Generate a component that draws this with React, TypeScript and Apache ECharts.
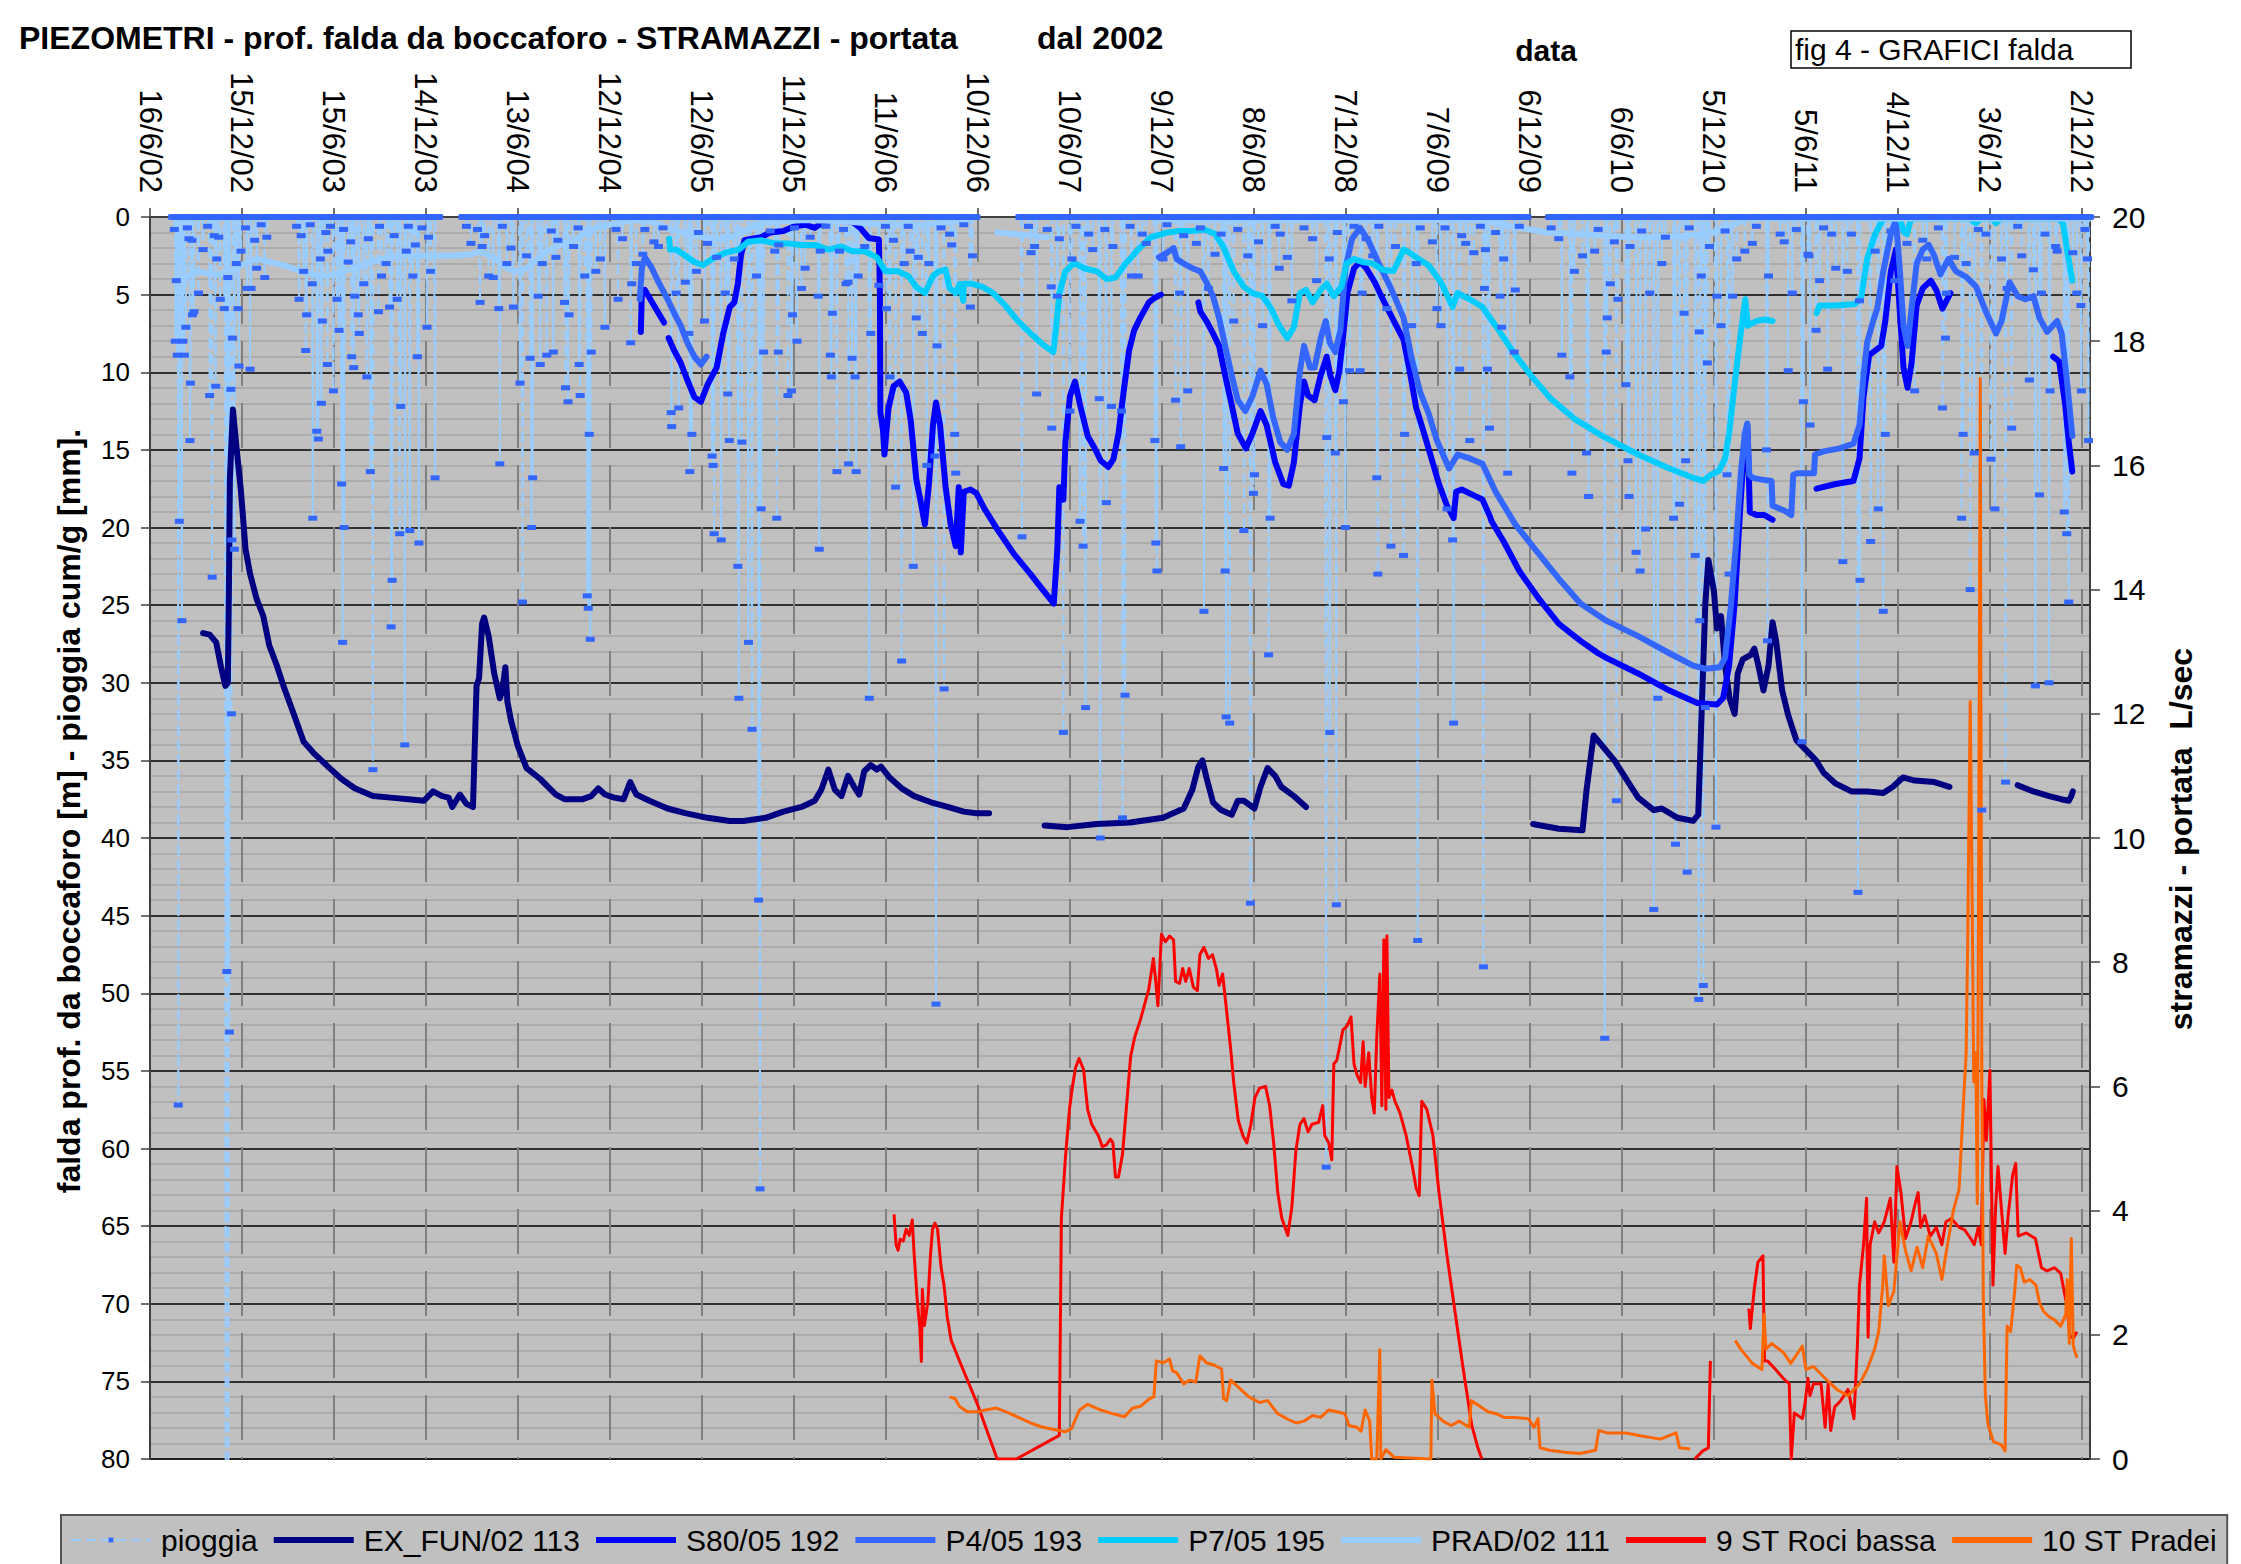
import React, { useEffect, useRef } from 'react';
import * as echarts from 'echarts';

// ---- time axis: x values are days counted from 16/6/2002 (first date tick) ----
const TICK_STEP_DAYS = 182;
const AXIS_MAX_DAYS = 3838;
const dateTickLabels = [
  '16/6/02', '15/12/02', '15/6/03', '14/12/03', '13/6/04', '12/12/04', '12/6/05', '11/12/05',
  '11/6/06', '10/12/06', '10/6/07', '9/12/07', '8/6/08', '7/12/08', '7/6/09', '6/12/09',
  '6/6/10', '5/12/10', '5/6/11', '4/12/11', '3/6/12', '2/12/12',
];

type Pt = [number, number];

// ---- groundwater depth (left axis, m) ----
const exFun113: Pt[][] = [
  [[105,26.8],[118,26.9],[131,27.4],[140,28.9],[149,30.2],[154,30.0],[156,24.4],[158,16.9],[164,12.4],[171,14.8],[180,17.7],[189,21.4],[198,23.0],[211,24.6],[224,25.7],[236,27.6],[251,28.9],[264,30.2],[282,31.8],[304,33.8],[326,34.6],[352,35.4],[379,36.2],[405,36.8],[441,37.3],[476,37.4],[511,37.5],[542,37.6],[560,37.0],[578,37.3],[591,37.4],[598,38.0],[613,37.2],[626,37.8],[639,38.0],[646,30.2],[651,29.7],[657,26.2],[661,25.8],[670,27.0],[681,29.4],[692,31.0],[697,30.5],[703,29.0],[707,31.2],[714,32.4],[728,34.1],[745,35.5],[772,36.2],[803,37.2],[820,37.5],[856,37.5],[873,37.3],[887,36.8],[900,37.2],[918,37.4],[937,37.5],[950,36.4],[962,37.2],[988,37.6],[1024,38.1],[1059,38.4],[1103,38.7],[1147,38.9],[1174,38.9],[1218,38.7],[1253,38.3],[1289,38.0],[1315,37.6],[1328,36.9],[1342,35.6],[1355,36.9],[1368,37.3],[1381,36.0],[1393,36.7],[1403,37.2],[1413,35.7],[1426,35.3],[1438,35.6],[1446,35.4],[1463,36.1],[1487,36.8],[1512,37.3],[1545,37.7],[1578,38.0],[1610,38.3],[1635,38.4],[1660,38.4]],
  [[1770,39.2],[1815,39.3],[1873,39.1],[1939,39.0],[2004,38.7],[2045,38.1],[2062,36.9],[2074,35.4],[2082,35.0],[2090,36.1],[2103,37.7],[2119,38.2],[2140,38.5],[2152,37.6],[2164,37.6],[2185,38.1],[2197,36.7],[2211,35.5],[2226,36.0],[2238,36.7],[2263,37.3],[2287,38.0]],
  [[2736,39.1],[2787,39.4],[2834,39.5],[2842,36.9],[2856,33.4],[2897,35.0],[2944,37.4],[2975,38.2],[2991,38.1],[3022,38.7],[3053,38.9],[3063,38.5],[3070,31.6],[3077,24.9],[3083,22.1],[3094,24.1],[3100,26.5],[3108,25.7],[3116,28.9],[3125,31.0],[3135,32.0],[3141,29.4],[3151,28.5],[3167,28.2],[3174,27.8],[3182,28.9],[3192,30.5],[3202,28.9],[3210,26.1],[3217,27.3],[3229,30.5],[3241,32.1],[3257,33.7],[3272,34.2],[3296,35.0],[3311,35.8],[3335,36.5],[3366,37.0],[3397,37.0],[3429,37.1],[3448,36.7],[3468,36.1],[3491,36.3],[3530,36.4],[3560,36.7]],
  [[3695,36.6],[3726,37.0],[3757,37.3],[3781,37.5],[3796,37.6],[3801,37.3],[3804,37.0]],
];

const s80_192: Pt[][] = [
  [[971,7.4],[973,4.9],[979,4.7],[997,5.7],[1017,6.8]],
  [[1026,7.8],[1037,8.6],[1050,9.4],[1063,10.5],[1077,11.6],[1090,11.9],[1103,10.8],[1121,9.7],[1134,7.5],[1147,5.8],[1156,5.5],[1163,4.3],[1169,2.5],[1176,1.5],[1191,1.4],[1209,1.3],[1227,1.0],[1253,0.9],[1275,0.6],[1297,0.5],[1315,0.7],[1333,0.3],[1359,0.2],[1389,0.3],[1405,0.7],[1422,1.35],[1442,1.45],[1444,4.9],[1445,12.6],[1450,13.7],[1453,15.3],[1461,12.3],[1471,10.9],[1483,10.6],[1496,11.3],[1505,13.1],[1516,16.9],[1524,18.2],[1533,19.8],[1541,17.2],[1549,13.4],[1555,11.95],[1563,13.4],[1574,17.4],[1584,19.8],[1594,21.2],[1600,17.4],[1604,21.6],[1610,17.7],[1623,17.55],[1635,17.8],[1651,18.8],[1676,20.1],[1709,21.7],[1742,23.0],[1766,24.0],[1788,24.9],[1795,21.4],[1799,17.4],[1807,18.2],[1811,14.5],[1820,11.55],[1830,10.6],[1840,12.1],[1855,14.1],[1869,14.9],[1881,15.7],[1896,16.1],[1906,15.6],[1916,13.95],[1926,11.3],[1937,8.6],[1947,7.3],[1959,6.5],[1976,5.5],[1988,5.2],[2000,5.0]],
  [[2074,5.5],[2078,6.1],[2090,6.7],[2103,7.5],[2115,8.3],[2127,10.2],[2140,12.1],[2152,13.95],[2168,14.9],[2181,13.95],[2197,12.5],[2209,13.4],[2226,15.8],[2242,17.2],[2253,17.3],[2263,15.8],[2275,12.1],[2283,10.6],[2291,11.5],[2304,11.8],[2316,10.2],[2328,9.0],[2335,10.2],[2345,11.15],[2353,9.9],[2361,7.5],[2369,4.9],[2382,3.3],[2394,2.9],[2406,3.3],[2423,4.2],[2439,5.3],[2464,6.9],[2480,7.9],[2492,9.9],[2505,12.3],[2517,13.55],[2533,15.3],[2550,17.2],[2566,18.6],[2579,19.4],[2584,17.7],[2595,17.55],[2620,17.95],[2636,18.2],[2651,19.3],[2654,19.6],[2678,20.9],[2709,22.8],[2748,24.6],[2787,26.2],[2830,27.3],[2865,28.1],[2881,28.4],[2944,29.4],[3006,30.5],[3061,31.3],[3100,31.4],[3112,31.0],[3124,28.9],[3135,24.9],[3147,18.2],[3155,14.5],[3160,13.4],[3163,16.4],[3165,19.0],[3178,19.2],[3194,19.2],[3210,19.5]],
  [[3297,17.5],[3335,17.2],[3370,17.0],[3382,15.55],[3390,11.55],[3401,8.9],[3413,8.6],[3425,8.3],[3433,6.7],[3444,3.5],[3454,2.1],[3462,6.2],[3469,9.7],[3477,11.0],[3485,9.4],[3495,5.7],[3507,4.6],[3523,4.1],[3534,4.7],[3546,5.9],[3562,4.9]],
  [[3765,9.0],[3777,9.3],[3789,12.1],[3796,14.5],[3803,16.4]],
];

const p4_193: Pt[][] = [
  [[969,5.3],[973,3.3],[979,2.6],[993,3.3],[1006,4.2],[1024,5.3],[1037,6.2],[1050,7.0],[1063,8.1],[1077,9.0],[1090,9.5],[1101,9.0]],
  [[1996,2.6],[2012,2.3],[2025,2.0],[2031,2.7],[2045,3.0],[2062,3.3],[2078,3.5],[2090,4.2],[2103,5.1],[2115,6.5],[2127,8.3],[2140,10.2],[2152,11.8],[2167,12.5],[2181,11.55],[2197,9.9],[2209,10.75],[2222,12.9],[2236,14.5],[2250,15.0],[2263,13.95],[2275,9.9],[2283,8.3],[2295,9.7],[2304,9.7],[2316,7.8],[2326,6.7],[2334,8.1],[2345,8.7],[2355,7.3],[2365,3.3],[2378,1.4],[2394,0.7],[2410,1.5],[2431,3.0],[2455,4.6],[2480,6.5],[2496,9.1],[2513,11.3],[2529,12.6],[2546,14.4],[2570,16.2],[2587,15.3],[2611,15.55],[2636,15.9],[2662,17.7],[2701,19.8],[2740,21.4],[2787,23.3],[2830,24.9],[2881,26.0],[2944,27.0],[3006,28.1],[3053,28.9],[3077,29.1],[3106,29.0],[3116,28.4],[3127,25.2],[3138,20.9],[3147,16.6],[3155,13.95],[3160,13.3],[3164,16.6],[3171,16.8],[3186,16.9],[3208,17.0],[3210,18.6],[3233,18.9],[3247,19.2],[3251,16.6],[3260,16.5],[3292,16.5],[3294,15.3],[3311,15.1],[3343,14.9],[3370,14.6],[3382,13.4],[3390,10.2],[3397,8.1],[3409,6.7],[3417,5.9],[3429,3.5],[3444,1.1],[3454,0.2],[3462,3.5],[3469,7.0],[3477,8.3],[3485,5.9],[3495,3.0],[3507,2.1],[3519,1.8],[3530,2.5],[3542,3.7],[3558,2.7],[3573,3.5],[3593,3.85],[3613,4.5],[3632,6.1],[3652,7.5],[3663,6.7],[3679,4.2],[3695,5.1],[3710,5.3],[3726,5.1],[3738,6.5],[3753,7.4],[3773,6.7],[3782,7.5],[3793,10.75],[3803,14.1]],
];

const p7_195: Pt[][] = [
  [[1027,1.4],[1029,2.1],[1041,2.1],[1059,2.5],[1077,2.9],[1094,3.1],[1112,2.7],[1138,2.3],[1165,2.1],[1183,1.6],[1209,1.5],[1236,1.7],[1262,1.7],[1289,1.8],[1315,1.8],[1342,2.1],[1368,1.9],[1389,2.2],[1413,2.2],[1438,2.6],[1455,3.5],[1479,3.5],[1500,3.8],[1516,4.5],[1533,4.9],[1549,3.8],[1561,3.5],[1574,3.4],[1582,4.6],[1594,4.9],[1602,4.3],[1609,5.4],[1610,4.3],[1627,4.3],[1647,4.5],[1668,4.9],[1692,5.7],[1717,6.7],[1742,7.5],[1766,8.2],[1787,8.7],[1793,7.0],[1799,4.9],[1811,3.5],[1828,2.95],[1848,3.3],[1873,3.5],[1893,4.0],[1910,3.9],[1930,3.0],[1955,2.1],[1980,1.3],[2012,1.0],[2037,0.9],[2062,0.9],[2086,0.8],[2107,1.1],[2123,1.9],[2144,3.5],[2164,4.5],[2181,4.9],[2201,5.1],[2218,5.9],[2234,7.0],[2250,7.8],[2263,7.1],[2275,4.9],[2287,4.7],[2300,5.5],[2316,4.7],[2328,4.3],[2342,5.1],[2357,4.5],[2367,3.0],[2382,2.7],[2398,2.9],[2419,3.0],[2439,3.4],[2460,3.5],[2480,2.1],[2492,2.3],[2509,2.7],[2529,3.1],[2554,4.2],[2577,5.8],[2587,4.9],[2611,5.3],[2636,5.8],[2662,7.0],[2701,8.9],[2732,10.2],[2771,11.7],[2818,13.0],[2873,14.1],[2944,15.3],[3006,16.2],[3053,16.8],[3073,17.0],[3088,16.6],[3104,16.35],[3116,15.55],[3125,13.7],[3135,10.75],[3147,7.5],[3156,5.3],[3161,7.0],[3178,6.7],[3194,6.6],[3210,6.7]],
  [[3297,6.2],[3303,5.7],[3335,5.7],[3374,5.6],[3386,5.1],[3397,2.7],[3413,1.1],[3429,0.1],[3462,0.1],[3470,1.0],[3476,1.1],[3484,0.1],[3600,0.1],[3612,0.4],[3622,0.1],[3645,0.1],[3652,0.4],[3660,0.1],[3778,0.1],[3785,0.5],[3793,2.2],[3803,4.1]],
];

const prad02_111: Pt[][] = [
  [[52,4.1],[70,3.9],[96,3.5],[131,3.75],[158,3.5],[180,3.1],[211,2.7],[237,2.9],[264,3.1],[299,3.5],[326,3.75],[352,3.8],[379,3.5],[405,3.3],[432,2.95],[458,2.7],[494,2.5],[529,2.5],[564,2.5],[600,2.5],[635,2.4],[653,2.2],[679,2.6],[706,3.3],[723,3.5],[745,3.3],[767,2.7],[785,2.2],[812,1.8],[838,1.5],[860,1.1],[882,0.7],[909,0.5],[935,0.3],[960,0.2],[990,0.3],[1031,0.8],[1075,1.2],[1119,1.45],[1150,1.3],[1172,1.0],[1200,0.5],[1230,0.3],[1300,0.2],[1384,0.3],[1450,0.5],[1528,0.5],[1600,0.3],[1620,0.3]],
  [[1676,1.0],[1709,1.1],[1742,1.2],[1775,1.3]],
  [[2000,0.2],[2200,0.2],[2400,0.2],[2631,0.2],[2696,0.6],[2763,1.0],[2829,1.1],[2894,1.25],[2961,1.3],[3027,1.25],[3092,1.0],[3125,0.6],[3158,0.1],[3400,0.1],[3836,0.1]],
];

// ---- weir discharge (right axis, L/sec) ----
const rociBassa: Pt[][] = [
  [[1472,3.94],[1476,3.45],[1480,3.36],[1484,3.54],[1490,3.51],[1496,3.7],[1502,3.6],[1508,3.85],[1512,3.27],[1518,2.54],[1523,2.12],[1526,1.57],[1528,2.73],[1532,2.15],[1539,2.54],[1544,3.27],[1548,3.7],[1553,3.8],[1558,3.7],[1565,3.09],[1571,2.79],[1577,2.3],[1585,1.91],[1605,1.51],[1637,0.88],[1676,0],[1714,0],[1799,0.38],[1803,3.88],[1811,4.85],[1819,5.63],[1825,6.0],[1831,6.3],[1838,6.45],[1847,6.27],[1851,5.94],[1855,5.63],[1863,5.39],[1876,5.21],[1884,5.03],[1892,5.06],[1900,5.15],[1905,5.09],[1910,4.54],[1916,4.54],[1924,4.91],[1932,5.69],[1940,6.48],[1948,6.79],[1960,7.09],[1970,7.39],[1976,7.57],[1985,8.06],[1989,7.75],[1994,7.3],[2001,8.45],[2009,8.33],[2017,8.42],[2025,8.36],[2029,7.69],[2037,7.66],[2043,7.9],[2049,7.69],[2056,7.9],[2064,7.6],[2072,7.54],[2077,8.12],[2085,8.24],[2094,8.06],[2102,8.12],[2110,7.88],[2115,7.63],[2122,7.81],[2130,7.21],[2138,6.6],[2144,6.06],[2153,5.45],[2162,5.21],[2170,5.09],[2178,5.39],[2186,5.82],[2195,5.97],[2207,6.0],[2215,5.69],[2223,5.09],[2231,4.3],[2239,3.88],[2251,3.6],[2259,4.06],[2267,4.97],[2275,5.39],[2283,5.48],[2291,5.27],[2299,5.39],[2312,5.42],[2320,5.69],[2324,5.21],[2332,5.09],[2338,4.82],[2342,6.36],[2348,6.42],[2354,6.66],[2360,6.91],[2368,6.97],[2376,7.12],[2382,6.36],[2388,6.18],[2395,6.06],[2400,6.72],[2404,6.0],[2411,6.54],[2417,5.82],[2422,5.57],[2427,6.79],[2433,7.81],[2437,5.69],[2441,8.36],[2445,5.63],[2447,8.42],[2451,5.82],[2457,5.94],[2463,5.76],[2473,5.57],[2485,5.21],[2497,4.73],[2505,4.36],[2511,4.24],[2516,5.76],[2526,5.63],[2538,5.21],[2550,4.3],[2566,3.27],[2582,2.36],[2598,1.45],[2615,0.54],[2627,0.18],[2635,0]],
  [[3056,0],[3072,0.13],[3083,0.18],[3087,1.58]],
  [[3163,2.42],[3166,2.1],[3174,2.75],[3181,3.17],[3191,3.27],[3194,1.58],[3200,1.58],[3216,1.44],[3231,1.3],[3243,1.21],[3247,0],[3253,0.74],[3269,0.65],[3274,0.88],[3280,1.3],[3284,1.02],[3291,1.21],[3306,1.21],[3314,0.51],[3320,1.21],[3325,0.46],[3333,0.84],[3344,0.93],[3359,1.12],[3363,0.98],[3371,0.65],[3378,1.86],[3382,2.8],[3390,3.45],[3396,4.2],[3399,1.96],[3403,3.45],[3412,3.82],[3420,3.64],[3431,3.82],[3443,4.2],[3450,3.17],[3456,4.71],[3464,4.29],[3473,3.55],[3484,3.82],[3492,4.11],[3498,4.29],[3503,3.73],[3511,3.92],[3522,3.59],[3534,3.73],[3545,3.45],[3553,3.82],[3564,3.87],[3579,3.73],[3590,3.69],[3602,3.55],[3609,3.45],[3617,3.73],[3623,3.45],[3628,5.79],[3633,5.13],[3640,6.26],[3646,2.8],[3651,4.01],[3656,4.71],[3662,4.11],[3670,3.31],[3676,3.92],[3685,4.57],[3691,4.76],[3696,3.59],[3712,3.64],[3730,3.55],[3742,3.08],[3753,3.03],[3768,3.08],[3780,2.99],[3791,2.52],[3799,1.96],[3806,1.96],[3812,2.05]],
];

const pradei: Pt[][] = [
  [[1582,1.0],[1593,0.97],[1601,0.85],[1617,0.76],[1637,0.76],[1653,0.79],[1674,0.82],[1694,0.76],[1718,0.67],[1742,0.58],[1767,0.51],[1791,0.47],[1811,0.44],[1823,0.49],[1839,0.79],[1855,0.88],[1880,0.79],[1904,0.73],[1928,0.68],[1944,0.82],[1960,0.85],[1977,0.97],[1986,1.0],[1991,1.58],[2005,1.55],[2017,1.61],[2023,1.42],[2031,1.39],[2045,1.21],[2057,1.27],[2069,1.24],[2077,1.66],[2090,1.55],[2106,1.51],[2120,1.45],[2124,0.97],[2130,0.94],[2138,1.27],[2154,1.15],[2174,1.0],[2195,0.91],[2211,0.94],[2231,0.73],[2251,0.64],[2267,0.58],[2283,0.61],[2300,0.7],[2316,0.67],[2332,0.79],[2348,0.76],[2364,0.73],[2372,0.54],[2388,0.51],[2396,0.45],[2404,0.79],[2413,0.61],[2417,0],[2427,0],[2433,1.76],[2435,0],[2445,0.15],[2461,0.03],[2534,0],[2536,1.27],[2542,0.73],[2558,0.61],[2574,0.54],[2590,0.61],[2610,0.51],[2614,0.94],[2631,0.85],[2647,0.76],[2663,0.73],[2679,0.67],[2701,0.67],[2727,0.65],[2738,0.51],[2746,0.65],[2750,0.18],[2769,0.14],[2799,0.11],[2829,0.09],[2860,0.14],[2866,0.46],[2882,0.42],[2920,0.42],[2951,0.37],[2988,0.32],[3019,0.42],[3026,0.18],[3047,0.16]],
  [[3136,1.91],[3147,1.77],[3170,1.54],[3189,1.44],[3193,2.33],[3197,1.77],[3208,1.86],[3231,1.72],[3246,1.54],[3269,1.82],[3276,1.44],[3291,1.49],[3314,1.3],[3337,1.12],[3359,1.02],[3382,1.21],[3397,1.44],[3412,1.77],[3420,2.05],[3428,2.8],[3431,3.27],[3439,2.47],[3450,2.7],[3462,3.82],[3473,3.36],[3484,3.03],[3496,3.41],[3507,3.08],[3518,3.59],[3534,3.31],[3545,2.89],[3556,3.45],[3568,4.01],[3579,4.34],[3588,5.79],[3593,6.54],[3596,8.31],[3601,12.2],[3604,9.81],[3608,6.07],[3612,6.54],[3615,4.11],[3618,10.0],[3621,17.4],[3624,6.07],[3627,2.52],[3631,1.02],[3636,0.56],[3647,0.28],[3662,0.23],[3670,0.13],[3674,2.14],[3681,2.05],[3689,2.7],[3693,3.12],[3700,3.08],[3708,2.85],[3719,2.89],[3731,2.8],[3738,2.52],[3746,2.38],[3757,2.29],[3768,2.24],[3780,2.14],[3790,2.33],[3793,2.89],[3797,1.86],[3801,3.55],[3805,1.82],[3812,1.63]],
];

// ---- daily rain (left axis, mm); days not listed had no rain ----
const rainHeavy: Pt[] = [
  [50,8.0],[52,4.1],[54,8.9],[56,57.2],[58,19.6],[63,26.0],[65,8.0],[68,8.9],[71,7.1],[79,14.4],[80,10.7],[84,6.3],[87,6.1],[118,11.5],[123,23.2],[130,10.9],[132,2.7],[139,5.3],[147,5.9],[150,90],[152,48.6],[154,3.9],[155,105],[157,52.5],[160,11.1],[161,32.0],[162,20.8],[163,7.8],[167,21.4],[171,3.0],[174,5.9],[176,9.6],[198,9.8],[200,4.6],[227,3.9],[231,1.3],[295,5.3],[304,3.5],[308,8.6],[310,6.3],[322,19.4],[330,13.8],[333,14.3],[339,12.0],[341,6.7],[351,9.5],[352,2.2],[363,11.2],[370,5.3],[379,17.2],[381,27.4],[384,20.0],[399,9.0],[403,9.7],[405,5.1],[412,6.3],[423,4.3],[429,10.3],[436,16.4],[441,35.6],[452,6.1],[467,3.0],[474,5.8],[477,26.4],[479,23.4],[494,20.4],[496,12.2],[504,34.0],[514,20.2],[520,3.8],[529,9.0],[532,21.0],[548,7.1],[564,16.8],
  [653,5.5],[679,3.9],[690,5.9],[692,15.9],[732,10.7],[737,24.8],[752,9.1],[755,20.0],[757,16.8],[772,9.5],[776,3.0],[785,8.9],[798,8.7],[820,5.5],[822,11.0],[827,11.9],[829,6.3],[849,9.5],[851,11.5],[865,24.4],[867,25.2],[869,14.0],[871,27.2],[873,8.7],[882,3.5],[900,7.1],[926,5.3],[951,8.1],[953,4.3],[975,2.4],[1031,12.6],[1032,13.5],[1046,12.3],[1059,4.2],[1066,7.5],[1068,16.4],[1072,14.0],[1097,6.7],[1112,15.4],[1114,16.0],[1116,20.4],[1130,20.8],[1143,11.4],[1146,14.4],[1163,22.5],[1165,31.0],[1171,14.5],[1184,27.4],[1191,33.0],[1204,44.0],[1207,62.6],[1209,18.8],[1214,8.7],[1240,19.4],[1243,8.7],[1262,11.5],[1269,11.2],[1271,6.3],[1280,8.0],[1296,3.3],[1322,5.1],[1324,21.4],[1346,8.9],[1348,10.3],[1350,6.2],[1359,16.4],
  [1381,4.2],[1382,15.9],[1389,9.1],[1395,10.3],[1397,16.4],[1423,31.0],[1426,7.5],[1442,4.4],[1464,10.3],[1475,17.4],[1487,28.6],[1492,3.0],[1510,22.5],[1516,6.5],[1528,7.5],[1537,16.0],[1553,15.4],[1555,50.7],[1557,8.3],[1571,30.4],[1592,14.0],[1594,16.5],[1623,5.8],[1725,20.6],[1743,2.3],[1754,11.4],[1783,4.5],[1784,13.6],[1807,33.2],[1820,12.5],[1840,19.6],[1846,21.2],[1851,31.6],[1878,11.7],[1880,40.0],[1892,18.4],[1902,12.2],[1922,12.5],[1924,38.7],[1929,30.8],[1955,3.8],[1988,14.4],[1990,21.0],[1992,22.8],[2029,11.8],[2039,14.8],[2053,11.2],[2085,25.4],[2124,16.2],[2127,22.8],[2129,32.2],[2136,32.6],[2164,20.2],[2177,44.2],[2183,17.8],[2185,16.6],[2213,28.2],[2216,19.4],[2234,3.3],[2308,4.1],[2327,61.2],[2328,14.2],[2334,33.2],[2345,15.2],[2347,44.3],[2361,11.9],[2365,20.0],[2373,9.9],[2394,9.9],[2427,16.8],[2429,23.0],[2455,21.2],[2480,21.8],[2482,14.0],[2496,7.0],[2508,46.6],[2546,5.9],[2566,18.8],[2577,20.8],[2579,32.6],[2591,9.8],[2611,14.4],[2619,2.3],
  [2638,48.3],[2646,9.8],[2650,13.6],[2671,5.1],[2674,7.1],[2686,16.5],[2699,8.7],[2793,8.9],[2809,10.3],[2813,16.5],[2842,15.2],[2846,18.0],[2878,52.9],[2881,8.7],[2883,6.5],[2901,37.6],[2904,5.3],[2920,10.8],[2924,15.7],[2926,18.0],[2940,21.6],[2948,22.8],[2959,20.1],[2975,44.6],[2983,31.0],[3014,19.4],[3018,40.4],[3026,18.5],[3038,15.7],[3041,42.2],[3057,21.8],[3064,50.4],[3065,7.4],[3066,26.0],[3073,49.5],[3077,31.6],[3081,9.4],[3098,39.3],[3108,7.0],[3120,16.6],[3124,23.0],[3131,5.1],[3155,2.2],[3198,15.0],[3200,27.3],[3241,9.9],[3268,33.8],[3271,11.9],[3284,13.4],[3296,7.3],[3319,9.8],[3349,22.2],[3379,43.5],[3383,23.4],[3404,20.9],[3419,18.8],[3429,25.4],[3433,14.0],[3491,11.2],[3546,12.3],[3552,7.8],[3584,19.4],[3587,14.0],[3601,24.0],[3609,15.2],[3624,38.2],[3642,15.6],[3650,18.8],[3671,36.4],[3683,13.6],[3718,10.5],[3730,30.2],[3738,17.9],[3757,30.0],[3759,11.2],[3787,19.0],[3792,20.4],[3796,24.8],[3804,2.3],[3820,5.7],[3821,11.2],[3835,14.4],
];
const rainLight: Pt[] = [
  [48,0.8],[74,0.7],[77,1.4],[83,1.5],[96,4.9],[105,2.1],[114,0.6],[127,1.2],[136,1.3],[180,2.2],[189,0.7],[192,4.6],[207,1.5],[211,3.3],[220,0.5],[290,0.6],[299,1.2],[317,0.5],[321,4.3],[337,2.7],[348,1.0],[357,0.6],[374,7.3],[383,0.8],[392,2.9],[397,1.6],[414,7.5],[432,1.4],[454,0.6],[458,3.8],[483,1.2],[489,5.3],[507,2.2],[511,0.6],[525,1.8],[538,0.7],[551,1.3],[555,3.5],
  [626,0.6],[635,1.7],[648,0.8],[657,1.9],[662,1.2],[670,3.8],[697,0.6],[706,3.0],[714,2.0],[719,5.8],[745,2.5],[768,5.1],[794,0.9],[803,2.6],[807,1.5],[838,1.9],[847,0.7],[860,3.8],[891,2.7],[922,0.8],[935,1.4],[962,3.0],[979,0.8],[997,1.6],[1006,1.9],[1015,0.7],[1041,4.9],[1081,3.5],[1085,1.0],[1103,1.7],[1121,2.6],[1138,4.9],[1156,2.7],[1200,3.8],[1227,0.9],[1236,2.2],[1244,1.8],[1275,0.7],[1289,4.6],[1306,1.3],[1326,2.2],[1337,0.6],[1364,2.2],[1377,4.3],
  [1372,0.8],[1401,3.8],[1414,1.9],[1455,0.6],[1457,5.9],[1471,1.5],[1500,0.6],[1504,2.2],[1520,2.6],[1541,3.0],[1565,0.7],[1582,1.1],[1586,1.8],[1610,0.5],[1627,2.5],[1738,0.6],[1750,1.9],[1775,0.8],[1795,5.1],[1799,1.4],[1824,2.7],[1832,0.6],[1857,1.1],[1865,2.1],[1889,0.8],[1905,1.9],[1939,0.6],[1942,3.8],[1963,1.1],[1971,1.7],[2004,2.7],[2012,0.5],[2037,4.9],[2045,1.2],[2070,1.7],[2078,0.7],[2094,4.6],[2107,2.4],[2119,1.1],[2144,6.7],[2152,0.8],[2172,2.5],[2193,1.6],[2201,7.0],[2226,0.6],[2236,1.1],[2250,2.6],[2259,5.4],[2283,0.7],[2300,1.4],[2333,2.7],[2349,1.0],[2382,0.6],[2398,4.9],[2406,1.4],[2419,2.5],[2431,0.6],[2447,5.9],[2464,1.9],[2505,3.0],[2513,0.7],[2537,1.6],[2554,7.0],[2562,0.7],[2595,1.2],[2603,1.7],[2632,0.6],[2640,4.6],
  [2642,2.1],[2662,1.0],[2678,2.7],[2701,4.7],[2709,0.6],[2772,0.7],[2787,1.4],[2818,3.5],[2834,2.5],[2858,2.2],[2865,0.8],[2889,4.3],[2897,1.6],[2928,1.9],[2951,0.9],[2967,4.9],[2991,3.0],[2998,1.3],[3035,6.2],[3045,0.7],[3069,3.8],[3085,1.9],[3100,5.1],[3116,0.9],[3139,2.7],[3170,1.7],[3178,0.6],[3202,3.8],[3225,1.1],[3233,1.6],[3249,4.9],[3257,0.8],[3280,2.4],[3282,2.5],[3303,4.1],[3311,0.7],[3327,1.1],[3335,3.3],[3358,3.5],[3366,1.1],[3382,5.4],[3413,2.2],[3444,0.9],[3452,4.1],[3476,1.7],[3507,1.5],[3515,2.7],[3538,0.7],[3554,4.9],[3570,2.6],[3593,3.0],[3617,0.8],[3632,1.1],[3663,2.7],[3674,4.6],[3695,0.6],[3703,2.5],[3726,3.4],[3742,4.9],[3749,1.1],[3770,1.9],[3773,2.2],[3812,4.9],[3828,0.8],[3833,2.7],
];
const rainRecordFirstDay = 45;
const rainRecordLastDay = 3837;
const rainMissingPeriods: [number, number][] = [[572, 618], [1635, 1720], [2725, 2768]];

function joinSegments(segs: Pt[][]) {
  const out: any[] = [];
  segs.forEach((s, i) => {
    if (i > 0) out.push([s[0][0] - 0.5, null]);
    s.forEach((p) => out.push(p));
  });
  return out;
}

function buildDailyRain() {
  const m = new Map<number, number>();
  [...rainHeavy, ...rainLight].forEach(([d, v]) => m.set(d, Math.max(m.get(d) ?? 0, v)));
  const out: any[] = [];
  let prevGap = false;
  for (let d = rainRecordFirstDay; d <= rainRecordLastDay; d++) {
    const gap = rainMissingPeriods.some(([a, b]) => d >= a && d <= b);
    if (gap) {
      if (!prevGap) out.push([d, null]);
      prevGap = true;
      continue;
    }
    prevGap = false;
    out.push([d, m.get(d) ?? 0]);
  }
  return out;
}

const FONT = '"Liberation Sans", Arial, sans-serif';

export default function App() {
  const ref = useRef<HTMLDivElement>(null);
  useEffect(() => {
    if (!ref.current) return;
    const chart = echarts.init(ref.current, undefined, { renderer: 'svg' });
    const level = (name: string, color: string, segs: Pt[][]) => ({
      name, type: 'line', yAxisIndex: 0, data: joinSegments(segs), symbol: 'none',
      itemStyle: { color }, lineStyle: { color, width: 6, cap: 'round', join: 'round' },
    });
    const flow = (name: string, color: string, segs: Pt[][]) => ({
      name, type: 'line', yAxisIndex: 1, data: joinSegments(segs), symbol: 'none',
      itemStyle: { color }, lineStyle: { color, width: 3, join: 'round' },
    });
    const seriesNames = ['pioggia', 'EX_FUN/02 113', 'S80/05 192', 'P4/05 193', 'P7/05 195', 'PRAD/02 111', '9 ST Roci bassa', '10 ST Pradei'];
    const option: any = {
      animation: false,
      textStyle: { fontFamily: FONT },
      grid: { left: 150, top: 217, width: 1940, height: 1242, show: true, backgroundColor: '#C0C0C0', borderColor: '#808080', borderWidth: 2 },
      xAxis: {
        type: 'value', position: 'top', min: 0, max: AXIS_MAX_DAYS, interval: TICK_STEP_DAYS,
        axisLine: { show: true, onZero: false, lineStyle: { color: '#404040', width: 2 } },
        axisTick: { show: true, length: 9, lineStyle: { color: '#404040', width: 1.5 } },
        axisLabel: {
          rotate: 90, margin: 24, fontSize: 31, fontFamily: FONT, color: '#000', showMaxLabel: false,
          formatter: (v: number) => (v % TICK_STEP_DAYS === 0 ? dateTickLabels[v / TICK_STEP_DAYS] ?? '' : ''),
        },
        splitLine: { show: true, lineStyle: { color: '#808080', width: 2, type: [45, 17] } },
      },
      yAxis: [
        {
          type: 'value', inverse: true, min: 0, max: 80, interval: 5, position: 'left',
          axisLine: { show: true, onZero: false, lineStyle: { color: '#404040', width: 2 } },
          axisTick: { show: true, length: 9, lineStyle: { color: '#404040', width: 1.5 } },
          axisLabel: { fontSize: 26, margin: 20, color: '#000', fontFamily: FONT },
          splitLine: { show: true, lineStyle: { color: '#000', width: 1.5 } },
          minorTick: { show: false, splitNumber: 5 },
          minorSplitLine: { show: true, lineStyle: { color: '#A6A6A6', width: 1.5 } },
        },
        {
          type: 'value', min: 0, max: 20, interval: 2, position: 'right',
          axisLine: { show: true, onZero: false, lineStyle: { color: '#404040', width: 2 } },
          axisTick: { show: true, length: 10, lineStyle: { color: '#404040', width: 1.5 } },
          axisLabel: { fontSize: 30, margin: 22, color: '#000', fontFamily: FONT },
          splitLine: { show: false },
        },
      ],
      legend: {
        left: 61, top: 1515, padding: [10, 10, 10, 9], itemWidth: 80, itemHeight: 6, itemGap: 16,
        backgroundColor: '#C0C0C0', borderColor: '#555', borderWidth: 2, selectedMode: false,
        textStyle: { fontSize: 30, fontFamily: FONT, color: '#000', padding: [0, 0, 0, 5] },
        data: seriesNames.map((n, i) => (i === 0 ? { name: n } : { name: n, icon: 'rect' })),
      },
      graphic: [
        { type: 'text', x: 19, y: 38, style: { text: 'PIEZOMETRI - prof. falda da boccaforo - STRAMAZZI - portata', font: `bold 32px ${FONT}`, fill: '#000', textAlign: 'left', textVerticalAlign: 'middle', align: 'left', verticalAlign: 'middle' } },
        { type: 'text', x: 1037, y: 38, style: { text: 'dal 2002', font: `bold 32px ${FONT}`, fill: '#000', textAlign: 'left', textVerticalAlign: 'middle', align: 'left', verticalAlign: 'middle' } },
        { type: 'text', x: 1546, y: 50, style: { text: 'data', font: `bold 30px ${FONT}`, fill: '#000', textAlign: 'center', textVerticalAlign: 'middle', align: 'center', verticalAlign: 'middle' } },
        { type: 'rect', shape: { x: 1791, y: 31, width: 340, height: 37 }, style: { fill: '#fff', stroke: '#000', lineWidth: 1.5 } },
        { type: 'text', x: 1795, y: 49, style: { text: 'fig 4 - GRAFICI falda', font: `30px ${FONT}`, fill: '#000', textAlign: 'left', textVerticalAlign: 'middle', align: 'left', verticalAlign: 'middle' } },
        { type: 'text', x: 69, y: 811, rotation: Math.PI / 2, style: { text: 'falda prof. da boccaforo [m] - pioggia cum/g [mm].', font: `bold 32px ${FONT}`, fill: '#000', textAlign: 'center', textVerticalAlign: 'middle', align: 'center', verticalAlign: 'middle' } },
        { type: 'text', x: 2181, y: 839, rotation: Math.PI / 2, style: { text: 'stramazzi - portata  L/sec', font: `bold 32px ${FONT}`, fill: '#000', textAlign: 'center', textVerticalAlign: 'middle', align: 'center', verticalAlign: 'middle' } },
      ],
      series: [
        {
          name: 'pioggia', type: 'line', yAxisIndex: 0, data: buildDailyRain(),
          symbol: 'rect', symbolSize: [9, 5], showSymbol: true,
          itemStyle: { color: '#3366FF' }, lineStyle: { color: '#99CCFF', width: 2, type: [10, 5] },
        },
        level('EX_FUN/02 113', '#000080', exFun113),
        level('S80/05 192', '#0000FF', s80_192),
        level('P4/05 193', '#3366FF', p4_193),
        level('P7/05 195', '#00CCFF', p7_195),
        level('PRAD/02 111', '#99CCFF', prad02_111),
        flow('9 ST Roci bassa', '#FF0000', rociBassa),
        flow('10 ST Pradei', '#FF6600', pradei),
      ],
    };
    chart.setOption(option);
    return () => chart.dispose();
  }, []);
  return <div ref={ref} style={{ position: 'fixed', left: 0, top: 0, width: 2241, height: 1564, background: '#fff' }} />;
}
